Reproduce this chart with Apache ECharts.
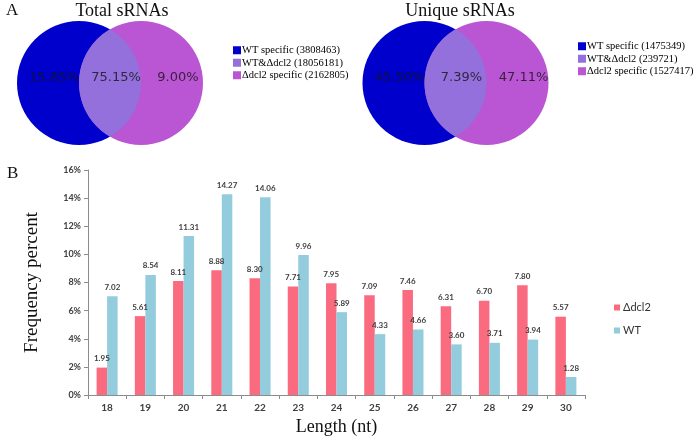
<!DOCTYPE html>
<html>
<head>
<meta charset="utf-8">
<script src="https://cdn.jsdelivr.net/npm/echarts@6/dist/echarts.min.js"></script>
<style>html,body{margin:0;padding:0;background:#fff}#c{width:696px;height:441px}</style>
</head>
<body>
<div id="c"></div>
<script>
// ---- Data ----
const categories = ['18','19','20','21','22','23','24','25','26','27','28','29','30'];
const dcl2Values = [1.95, 5.61, 8.11, 8.88, 8.30, 7.71, 7.95, 7.09, 7.46, 6.31, 6.70, 7.80, 5.57];
const wtValues   = [7.02, 8.54, 11.31, 14.27, 14.06, 9.96, 5.89, 4.33, 4.66, 3.60, 3.71, 3.94, 1.28];
const seriesNames = ['\u0394dcl2', 'WT'];

const totalTitle = 'Total sRNAs';
const totalLegend = ['WT specific (3808463)', 'WT&\u0394dcl2 (18056181)', '\u0394dcl2 specific (2162805)'];
const totalPercents = ['15.85%', '75.15%', '9.00%'];

const uniqueTitle = 'Unique sRNAs';
const uniqueLegend = ['WT specific (1475349)', 'WT&\u0394dcl2 (239721)', '\u0394dcl2 specific (1527417)'];
const uniquePercents = ['45.50%', '7.39%', '47.11%'];

// ---- Styles ----
const BLUE = '#0000CD', OVER = '#9370DB', MAG = '#BA55D3';
const RED = '#FB6B80', LBLUE = '#93CDDD';
const SERIF = '"Liberation Serif","Times New Roman",serif';
const SANS = 'Lato,"Open Sans",sans-serif';
const R = 62; // circle radius in px
const UNIT = 31; // px per venn unit
const lensH = 2 * Math.sqrt(R * R - (R / 2) * (R / 2));
const lensPath = 'path://M50,0 A100,100 0 0 1 50,173.205 A100,100 0 0 1 50,0 Z';

function vennSeries(gi, legendNames, percents) {
  return [
    { type: 'scatter', name: legendNames[0], xAxisIndex: gi, yAxisIndex: gi, clip: false, silent: true,
      symbol: 'circle', symbolSize: 2 * R, itemStyle: { color: BLUE, opacity: 1 }, data: [[-1, 0]], z: 2 },
    { type: 'scatter', name: legendNames[2], xAxisIndex: gi, yAxisIndex: gi, clip: false, silent: true,
      symbol: 'circle', symbolSize: 2 * R, itemStyle: { color: MAG, opacity: 1 }, data: [[1, 0]], z: 3 },
    { type: 'scatter', name: legendNames[1], xAxisIndex: gi, yAxisIndex: gi, clip: false, silent: true,
      symbol: lensPath, symbolSize: [R, lensH], itemStyle: { color: OVER, opacity: 1 }, data: [[0, 0]], z: 4 },
    { type: 'scatter', name: 'labels' + gi, xAxisIndex: gi, yAxisIndex: gi, clip: false, silent: true,
      symbol: 'circle', symbolSize: 2, itemStyle: { color: 'rgba(0,0,0,0)' }, z: 5,
      data: [[-2, 0, percents[0]], [0, 0, percents[1]], [2, 0, percents[2]]],
      label: { show: true, position: 'inside', offset: [6, -5], formatter: p => p.data[2],
        fontFamily: '"DejaVu Sans",sans-serif', fontSize: 13, color: '#141414' } }
  ];
}

const hiddenAxis = (gi, min, max) => ({ type: 'value', gridIndex: gi, min, max, show: false });

const legendText = { fontFamily: SERIF, fontSize: 10.5, color: '#000', lineHeight: 12.5, padding: [0, 0, 0, -4] };

const chart = echarts.init(document.getElementById('c'), null, { renderer: 'canvas' });
chart.setOption({
  animation: false,
  backgroundColor: '#fff',
  title: [
    { text: totalTitle, left: 117, top: -3, textAlign: 'center',
      textStyle: { fontFamily: SERIF, fontSize: 18, fontWeight: 'normal', color: '#111' } },
    { text: uniqueTitle, left: 455, top: -3, textAlign: 'center',
      textStyle: { fontFamily: SERIF, fontSize: 18, fontWeight: 'normal', color: '#111' } },
    { text: 'A', left: 1, top: -3, textStyle: { fontFamily: SERIF, fontSize: 17, fontWeight: 'normal', color: '#111' } },
    { text: 'B', left: 2, top: 160, textStyle: { fontFamily: SERIF, fontSize: 17, fontWeight: 'normal', color: '#111' } }
  ],
  legend: [
    { data: totalLegend, orient: 'vertical', left: 228, top: 39, icon: 'rect', itemWidth: 8, itemHeight: 8,
      itemGap: 0, selectedMode: false, textStyle: legendText },
    { data: uniqueLegend, orient: 'vertical', left: 573, top: 35, icon: 'rect', itemWidth: 8, itemHeight: 8,
      itemGap: 0, selectedMode: false, textStyle: legendText },
    { data: seriesNames, orient: 'vertical', left: 609, top: 297, icon: 'rect', itemWidth: 6, itemHeight: 6,
      itemGap: 12, selectedMode: false,
      textStyle: { fontFamily: SANS, fontSize: 11, color: '#333', padding: [0, 0, 0, -2] } }
  ],
  grid: [
    { left: 88, right: 111, top: 170, bottom: 46, containLabel: false },
    { left: 110 - 3 * UNIT, width: 6 * UNIT, top: 83 - 2 * UNIT, height: 4 * UNIT },
    { left: 455.5 - 3 * UNIT, width: 6 * UNIT, top: 83 - 2 * UNIT, height: 4 * UNIT }
  ],
  xAxis: [
    { type: 'category', gridIndex: 0, data: categories,
      name: 'Length (nt)', nameLocation: 'middle', nameGap: 23,
      nameTextStyle: { fontFamily: SERIF, fontSize: 18, color: '#111' },
      axisLine: { lineStyle: { color: '#8c8c8c', width: 1 } },
      axisTick: { show: true, length: 4, lineStyle: { color: '#8c8c8c' } },
      axisLabel: { fontFamily: SANS, fontSize: 10, fontWeight: 'bold', color: '#404040', margin: 8 } },
    hiddenAxis(1, -3, 3), hiddenAxis(2, -3, 3)
  ],
  yAxis: [
    { type: 'value', gridIndex: 0, min: 0, max: 16, interval: 2,
      name: 'Frequency percent', nameLocation: 'middle', nameGap: 46, nameRotate: 90,
      nameTextStyle: { fontFamily: SERIF, fontSize: 19, color: '#111' },
      splitLine: { show: false },
      axisLine: { show: true, lineStyle: { color: '#8c8c8c', width: 1 } },
      axisTick: { show: true, length: 4, lineStyle: { color: '#8c8c8c' } },
      axisLabel: { formatter: '{value}%', fontFamily: SANS, fontSize: 9, fontWeight: 'bold', color: '#404040', margin: 7 } },
    hiddenAxis(1, -2, 2), hiddenAxis(2, -2, 2)
  ],
  series: [
    { type: 'bar', name: seriesNames[0], xAxisIndex: 0, yAxisIndex: 0, data: dcl2Values,
      barGap: '0%', barCategoryGap: '45%', itemStyle: { color: RED },
      label: { show: true, position: 'top', distance: 5, formatter: p => p.value.toFixed(2),
        fontFamily: SANS, fontSize: 8, fontWeight: 'bold', color: '#404040' } },
    { type: 'bar', name: seriesNames[1], xAxisIndex: 0, yAxisIndex: 0, data: wtValues,
      barGap: '0%', barCategoryGap: '45%', itemStyle: { color: LBLUE },
      label: { show: true, position: 'top', distance: 5, formatter: p => p.value.toFixed(2),
        fontFamily: SANS, fontSize: 8, fontWeight: 'bold', color: '#404040' } },
    ...vennSeries(1, totalLegend, totalPercents),
    ...vennSeries(2, uniqueLegend, uniquePercents)
  ]
});
</script>
</body>
</html>
